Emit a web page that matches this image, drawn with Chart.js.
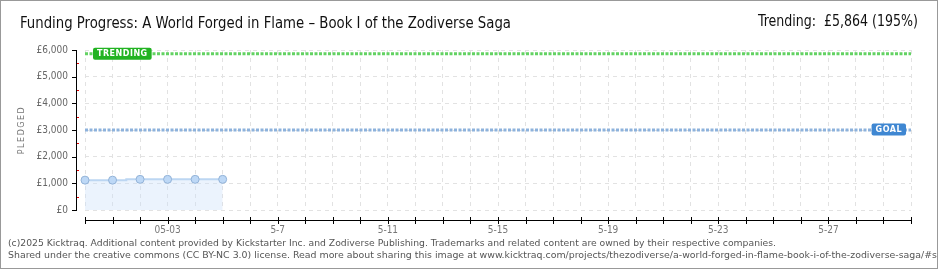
<!DOCTYPE html>
<html>
<head>
<meta charset="utf-8">
<script src="https://cdn.jsdelivr.net/npm/chart.js@4.4.1/dist/chart.umd.min.js"></script>
<style>
  html, body { margin: 0; padding: 0; background: #fff; }
  #wrap { width: 940px; height: 270px; position: relative; }
</style>
</head>
<body>
<div id="wrap"><canvas id="fundChart" width="940" height="270"></canvas></div>
<script>
// categories (one per day of the campaign)
const days = ['4-30', '5-1', '5-2', '05-03', '5-4', '5-5', '5-6', '5-7', '5-8', '5-9', '5-10',
  '5-11', '5-12', '5-13', '5-14', '5-15', '5-16', '5-17', '5-18', '5-19', '5-20',
  '5-21', '5-22', '5-23', '5-24', '5-25', '5-26', '5-27', '5-28', '5-29', '5-30'];
const pledged = [1120, 1120, 1150, 1150, 1150, 1150];
const goal = 3000;
const trending = 5864;
const yTicks = [0, 1000, 2000, 3000, 4000, 5000, 6000];

const title = 'Funding Progress: A World Forged in Flame \u2013 Book I of the Zodiverse Saga';
const trendText = 'Trending:  \u00a35,864 (195%)';
const footer1 = '(c)2025 Kicktraq. Additional content provided by Kickstarter Inc. and Zodiverse Publishing. Trademarks and related content are owned by their respective companies.';
const footer2 = 'Shared under the creative commons (CC BY-NC 3.0) license. Read more about sharing this image at www.kicktraq.com/projects/thezodiverse/a-world-forged-in-flame-book-i-of-the-zodiverse-saga/#share';

function money(v) {
  return '\u00a3' + v.toLocaleString('en-US');
}

function tag(ctx, text, x, y, bg, alignRight) {
  ctx.font = 'bold 8px "DejaVu Sans"';
  ctx.letterSpacing = '0.5px';
  const w = ctx.measureText(text).width + 8;
  const h = 12;
  const left = alignRight ? x - w : x;
  ctx.fillStyle = bg;
  ctx.beginPath();
  ctx.roundRect(left, y - h / 2, w, h, 2);
  ctx.fill();
  ctx.fillStyle = '#fff';
  ctx.textAlign = 'left';
  ctx.textBaseline = 'middle';
  ctx.fillText(text, left + 4, y + 0.5);
  ctx.letterSpacing = '0px';
}

// draw text squeezed to a given width
function fitText(ctx, text, x, y, width, alignRight) {
  const w = ctx.measureText(text).width;
  const k = width / w;
  ctx.save();
  ctx.translate(alignRight ? x - width : x, y);
  ctx.scale(k, 1);
  ctx.textAlign = 'left';
  ctx.fillText(text, 0, 0);
  ctx.restore();
}

const decor = {
  id: 'decor',
  beforeDraw(chart) {
    const c = chart.ctx;
    c.save();
    c.fillStyle = '#fff';
    c.fillRect(0, 0, chart.width, chart.height);
    c.restore();
  },
  afterDraw(chart) {
    const c = chart.ctx;
    const a = chart.chartArea;
    const ys = chart.scales.y;
    const xs = chart.scales.x;
    c.save();

    // y axis line + ticks
    c.fillStyle = '#000';
    c.fillRect(76, Math.round(a.top), 1, Math.round(a.bottom - a.top) + 1);
    yTicks.forEach(v => {
      const py = Math.round(ys.getPixelForValue(v));
      c.fillRect(72, py, 5, 1);
    });
    c.fillStyle = '#e00000';
    for (let i = 0; i < yTicks.length - 1; i++) {
      const py = Math.round(ys.getPixelForValue((yTicks[i] + yTicks[i + 1]) / 2));
      c.fillRect(77, py, 2, 1);
    }

    // x axis line + ticks
    c.fillStyle = '#000';
    c.fillRect(Math.round(a.left), 220, Math.round(a.right - a.left) + 1, 1);
    days.forEach((d, i) => {
      const px = Math.round(xs.getPixelForValue(i));
      c.fillRect(px, 217, 1, 7);
    });

    // tags
    tag(c, 'TRENDING', a.left + 8, ys.getPixelForValue(trending), '#22b322', false);
    tag(c, 'GOAL', a.right - 5, ys.getPixelForValue(goal) - 0.5, '#3f87d2', true);

    // y title
    c.save();
    c.translate(22, 130);
    c.rotate(-Math.PI / 2);
    c.font = '8px "DejaVu Sans"';
    c.letterSpacing = '1.5px';
    c.fillStyle = '#777';
    c.textAlign = 'center';
    c.textBaseline = 'middle';
    c.fillText('PLEDGED', 0, 0);
    c.restore();

    // titles
    c.fillStyle = '#111';
    c.font = '16px "Liberation Sans Narrow", "DejaVu Sans Condensed", sans-serif';
    c.textBaseline = 'middle';
    fitText(c, title, 20, 24, 491, false);
    fitText(c, trendText, 918, 22, 160, true);

    // footer
    c.fillStyle = '#555';
    c.font = '9.5px "DejaVu Sans Condensed", sans-serif';
    fitText(c, footer1, 8, 244, 768, false);
    const full = c.measureText(footer2).width;
    const upToS = c.measureText(footer2.slice(0, -4)).width;
    fitText(c, footer2, 8, 256, 929 * full / upToS, false);

    // frame
    c.strokeStyle = '#999';
    c.lineWidth = 1;
    c.clearRect(938, 0, 2, 270);
    c.strokeRect(0.5, 0.5, 937, 268);
    c.restore();
  }
};

new Chart(document.getElementById('fundChart'), {
  type: 'line',
  data: {
    labels: days,
    datasets: [
      {
        label: 'Pledged',
        data: pledged,
        borderColor: '#bcd6f2',
        borderWidth: 2,
        backgroundColor: 'rgba(205,225,250,0.4)',
        fill: 'origin',
        stepped: 'middle',
        pointRadius: 4,
        pointBackgroundColor: '#bdd8f6',
        pointBorderColor: '#93b3d8',
        pointBorderWidth: 1
      },
      {
        label: 'Goal',
        data: days.map(() => goal),
        borderColor: '#8db2dc',
        borderWidth: 3,
        borderDash: [3, 1.5],
        pointRadius: 0,
        fill: false
      },
      {
        label: 'Trending',
        data: days.map(() => trending),
        borderColor: '#63d263',
        borderWidth: 3,
        borderDash: [3, 1.5],
        pointRadius: 0,
        fill: false
      }
    ]
  },
  options: {
    responsive: false,
    animation: false,
    events: [],
    layout: { padding: { left: 0, top: 50, right: 29, bottom: 0 } },
    plugins: { legend: { display: false }, tooltip: { enabled: false } },
    scales: {
      x: {
        offset: false,
        afterFit: s => { s.height = 60; },
        grid: { color: '#e2e2e2', drawTicks: false },
        border: { display: false, dash: [4, 4] },
        ticks: {
          autoSkip: false,
          maxRotation: 0,
          padding: 14,
          color: '#777',
          font: { family: '"DejaVu Sans Condensed"', size: 10 },
          callback: (v, i) => ((i - 3) % 4 === 0 ? days[i] : '')
        }
      },
      y: {
        min: 0,
        max: 6000,
        afterFit: s => { s.width = 85; },
        grid: { color: '#e2e2e2', drawTicks: false },
        border: { display: false, dash: [4, 4] },
        ticks: {
          stepSize: 1000,
          padding: 17,
          color: '#666',
          font: { family: '"DejaVu Sans Condensed"', size: 10 },
          callback: v => money(v)
        }
      }
    }
  },
  plugins: [decor]
});
</script>
</body>
</html>
